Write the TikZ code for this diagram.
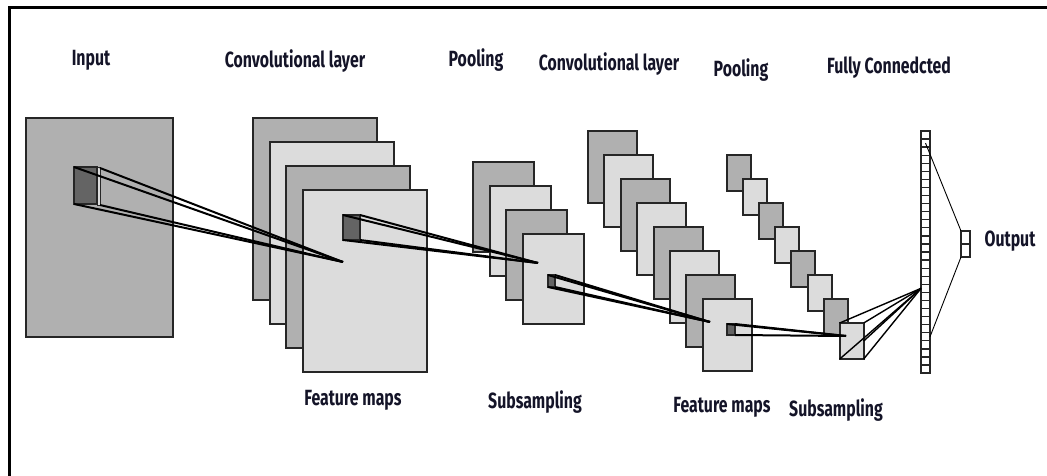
\documentclass[tikz,border=0pt]{standalone}
\usepackage{fontspec}
\newfontfamily\lblfont[FakeStretch=0.72]{Fira Sans}
\definecolor{dk}{HTML}{B0B0B0}
\definecolor{lt}{HTML}{DCDCDC}
\definecolor{kern}{HTML}{646464}
\definecolor{edge}{HTML}{262626}
\definecolor{txt}{HTML}{141428}
\tikzset{
  fm/.style={draw=edge, line width=2pt, anchor=north west, inner sep=0pt, outer sep=0pt},
  fmd/.style={fm, fill=dk},
  fml/.style={fm, fill=lt},
  kbox/.style={draw=edge, fill=kern, line width=1.5pt, anchor=north west, inner sep=0pt, outer sep=0pt},
  krim/.style={draw=edge, fill=lt, line width=1pt, anchor=north west, inner sep=0pt, outer sep=0pt},
  klink/.style={draw=black, line width=2pt},
  fanline/.style={draw=black, line width=1.4pt},
  thinline/.style={draw=black, line width=0.9pt},
  cell/.style={draw=edge, fill=white, line width=1.3pt, anchor=north west, inner sep=0pt, outer sep=0pt},
  lbl/.style={font=\lblfont\bfseries\fontsize{22}{26}\selectfont, text=txt, inner sep=0pt},
}
\begin{document}
\begin{tikzpicture}[x=1pt,y=-1pt]
\useasboundingbox (0,0) rectangle (1047,476);
\fill[white] (0,0) rectangle (1047,476);
% frame (only top and left edges visible)
\draw[line width=3pt] (1047,7.5) -- (9.5,7.5) -- (9.5,476);

% labels
\node[lbl] (tin) at (91,60) {Input};
\node[lbl] (tc1) at (295,61) {Convolutional layer};
\node[lbl] (tp1) at (476,60) {Pooling};
\node[lbl] (tc2) at (609,64) {Convolutional layer};
\node[lbl] (tp2) at (741,70) {Pooling};
\node[lbl] (tfc) at (889,68) {Fully Connedcted};
\node[lbl] (tf1) at (353,400) {Feature maps};
\node[lbl] (ts1) at (535,402) {Subsampling};
\node[lbl] (tf2) at (722,407) {Feature maps};
\node[lbl] (ts2) at (836,410) {Subsampling};
\node[lbl] (tout) at (1010,241) {Output};

% input
\node[fmd, minimum width=147pt, minimum height=219pt] (inp) at (26,118) {};

% conv layer 1
\foreach \i/\s in {0/fmd,1/fml,2/fmd,3/fml}
  \node[\s, minimum width=124pt, minimum height=182pt] (ca\i) at ({253+16.6*\i},{118+24*\i}) {};

% pooling 1
\foreach \i/\s in {0/fmd,1/fml,2/fmd,3/fml}
  \node[\s, minimum width=61pt, minimum height=90pt] (pa\i) at ({473+16.6*\i},{162+24*\i}) {};

% conv layer 2
\foreach \i/\s in {0/fmd,1/fml,2/fmd,3/fml,4/fmd,5/fml,6/fmd,7/fml}
  \node[\s, minimum width=49pt, minimum height=72pt] (cb\i) at ({588+16.4*\i},{131+24.0*\i}) {};

% pooling 2
\foreach \i/\s in {0/fmd,1/fml,2/fmd,3/fml,4/fmd,5/fml,6/fmd,7/fml}
  \node[\s, minimum width=24pt, minimum height=36pt] (pb\i) at ({727+16.1*\i},{155+24.0*\i}) {};

% apex points
\coordinate (a1) at (343,262);
\coordinate (a2) at (538,263);
\coordinate (a3) at (710,322);
\coordinate (a4) at (846,336);

% kernel 1 (input -> conv1)
\node[kbox, minimum width=23pt, minimum height=37pt] (k1) at (74,167) {};
\node[krim, minimum width=3pt, minimum height=37pt] (k1r) at (97,168) {};
\draw[klink] (k1.north west) -- (a1);
\draw[klink] (k1r.north east) -- (a1);
\draw[klink] (k1.south west) -- (a1);
\draw[klink] (k1r.south east) -- (a1);

% kernel 2 (conv1 -> pooling1)
\node[kbox, minimum width=17pt, minimum height=25pt] (k2) at (343,215) {};
\draw[klink] (k2.north west) -- (a2);
\draw[klink] (k2.north east) -- (a2);
\draw[klink] (k2.south west) -- (a2);
\draw[klink] (k2.south east) -- (a2);

% kernel 3 (pooling1 -> conv2)
\node[kbox, minimum width=7pt, minimum height=12pt] (k3) at (548,275) {};
\draw[klink] (k3.north west) -- (a3);
\draw[klink] (k3.north east) -- (a3);
\draw[klink] (k3.south west) -- (a3);
\draw[klink] (k3.south east) -- (a3);

% kernel 4 (conv2 -> pooling2)
\node[kbox, minimum width=8pt, minimum height=11pt] (k4) at (727,324) {};
\draw[klink] (k4.north east) -- (a4);
\draw[klink] (k4.south east) -- (a4);
\draw[klink] (k4.north west) -- (a4);

% fully connected column
\foreach \i in {0,...,29}
  \node[cell, minimum width=9pt, minimum height=8.07pt] (fc\i) at (921,{131+8.07*\i}) {};

% fan from pooling 2 to fully connected
\draw[fanline] (pb7.north west) -- (fc19.west);
\draw[fanline] (pb7.north east) -- (fc19.west);
\draw[fanline] (pb7.east) -- (fc19.west);
\draw[fanline] (pb7.south east) -- (fc19.west);
\draw[fanline] (pb7.south west) -- (fc19.west);

% output
\node[cell, minimum width=9pt, minimum height=13pt] (o1) at (961,231) {};
\node[cell, minimum width=9pt, minimum height=13pt] (o2) at (961,244) {};
\draw[thinline] (fc1.center) -- (o1.north west);
\draw[thinline] (fc25.east) -- (o2.south west);
\end{tikzpicture}
\end{document}
